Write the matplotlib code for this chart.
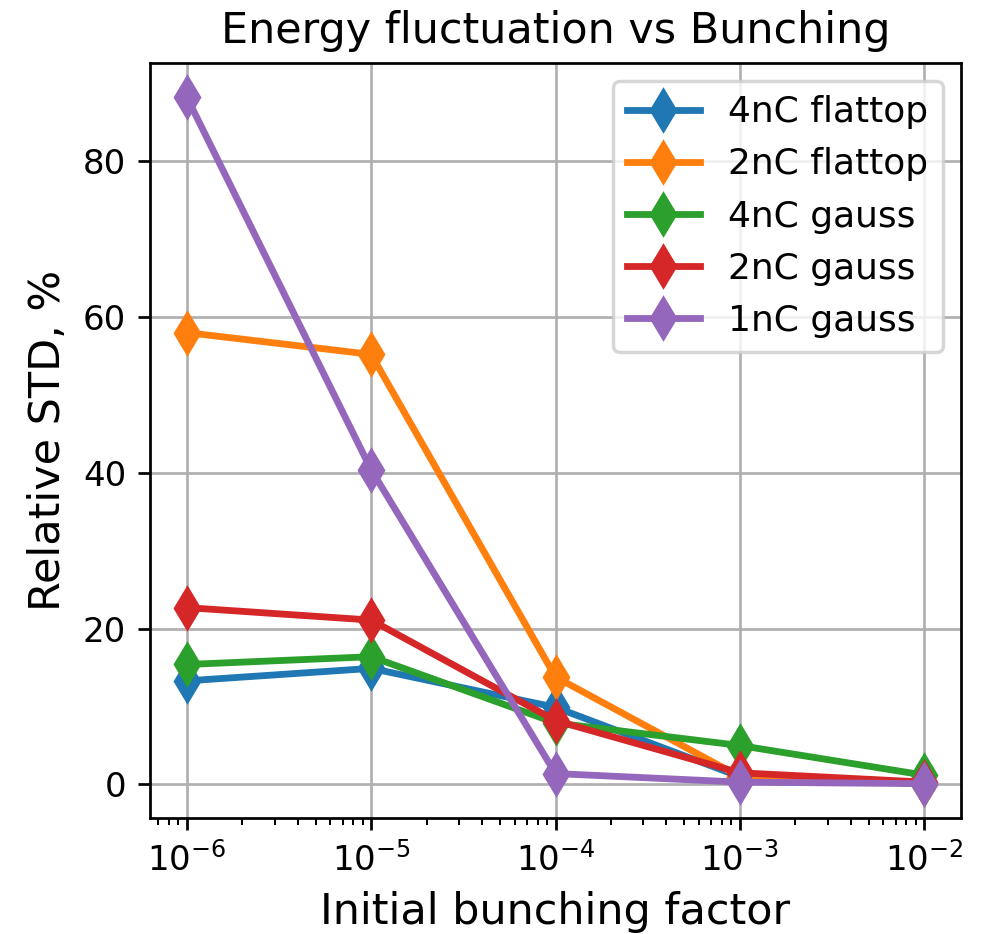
import matplotlib
matplotlib.use("Agg")
import matplotlib.pyplot as plt

bunching = [1e-6, 1e-5, 1e-4, 1e-3, 1e-2]
flat4 = [13.3, 14.9, 9.9, 1.0, 0.1]
flat2 = [58.0, 55.2, 13.8, 1.0, 0.1]
gauss4 = [15.4, 16.4, 7.9, 5.0, 1.2]
gauss2 = [22.7, 21.1, 8.2, 1.5, 0.3]
gauss1 = [88.2, 40.4, 1.4, 0.3, 0.1]
labels = ["4nC flattop", "2nC flattop", "4nC gauss", "2nC gauss", "1nC gauss"]

dpi = 245
fig = plt.figure(figsize=(987 / dpi, 934 / dpi), dpi=dpi)
ax = fig.add_axes([150 / 987, 1 - 818 / 934, (961 - 150) / 987, (818 - 63) / 934])
for ys, lab in zip([flat4, flat2, gauss4, gauss2, gauss1], labels):
    ax.plot(bunching, ys, marker="d", markersize=8.5, lw=2, label=lab)
ax.set_xscale("log")
ax.grid(True)
ax.legend(fontsize=10.6)
ax.set_xlabel("Initial bunching factor", fontsize=12.6)
ax.set_ylabel("Relative STD, %", fontsize=12.6)
ax.set_title("Energy fluctuation vs Bunching", fontsize=12.6)
fig.savefig("out.png", dpi=dpi)
